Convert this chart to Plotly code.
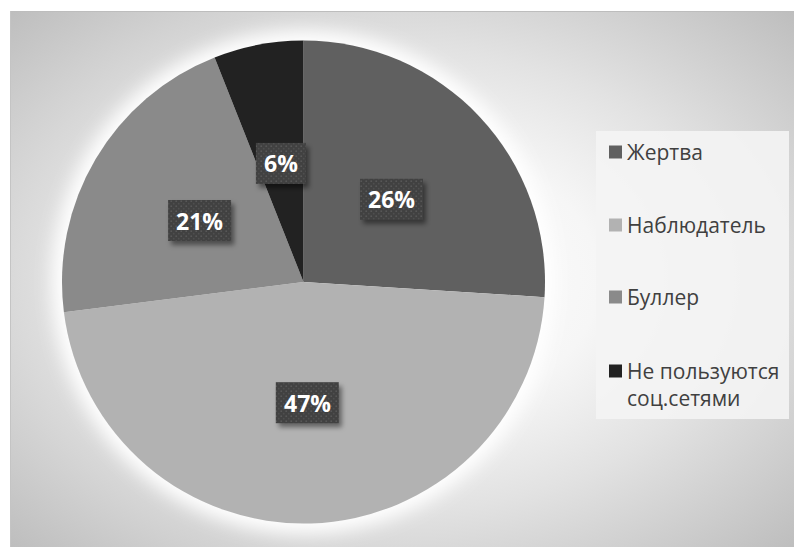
import base64
import math
import plotly.graph_objects as go

# Data
categories = ["Жертва", "Наблюдатель", "Буллер", "Не пользуются<br>соц.сетями"]
legend_names = ["Жертва", "Наблюдатель", "Буллер", "Не пользуются соц.сетями"]
values = [26, 47, 21, 6]
colors = ["#606060", "#b2b2b2", "#8a8a8a", "#222222"]

W, H = 794, 547
# pie domain (paper fractions)
dom_x = [62 / W, 545 / W]
dom_y = [23.5 / H, 506.5 / H]

cx_px = (dom_x[0] + dom_x[1]) / 2 * W
cy_px = H - (dom_y[0] + dom_y[1]) / 2 * H
radius_px = min((dom_x[1] - dom_x[0]) * W, (dom_y[1] - dom_y[0]) * H) / 2


def svg_uri(body):
    doc = (f'<svg xmlns="http://www.w3.org/2000/svg" width="{W}" height="{H}" '
           f'viewBox="0 0 {W} {H}">{body}</svg>')
    return "data:image/svg+xml;base64," + base64.b64encode(doc.encode("utf-8")).decode("ascii")


# Background: radial gradient panel with a soft white halo behind the pie
bg_body = f"""
<defs>
<radialGradient id="bg" cx="50%" cy="50%" r="72%">
<stop offset="0" stop-color="#ffffff"/>
<stop offset="0.35" stop-color="#f6f6f6"/>
<stop offset="0.6" stop-color="#e2e2e2"/>
<stop offset="1" stop-color="#bcbcbc"/>
</radialGradient>
<filter id="glow" x="-30%" y="-30%" width="160%" height="160%">
<feGaussianBlur stdDeviation="9"/>
</filter>
</defs>
<rect x="0" y="0" width="{W}" height="{H}" fill="#ffffff"/>
<rect x="10" y="11" width="{W-10}" height="{H-11}" fill="url(#bg)"/>
<circle cx="{cx_px:.1f}" cy="{cy_px:.1f}" r="{radius_px + 10:.1f}" fill="#ffffff" filter="url(#glow)"/>
<line x1="10" y1="11.5" x2="{W}" y2="11.5" stroke="#bdbdbd" stroke-width="1"/>
<line x1="10.5" y1="11" x2="10.5" y2="{H}" stroke="#c4c4c4" stroke-width="1"/>
"""

fig = go.Figure(
    go.Pie(
        labels=legend_names,
        values=values,
        sort=False,
        direction="clockwise",
        rotation=0,
        marker=dict(colors=colors, line=dict(width=0)),
        textinfo="none",
        hoverinfo="label+percent",
        showlegend=False,
        domain=dict(x=dom_x, y=dom_y),
    )
)

# Percentage labels: dotted dark boxes with a soft shadow, placed at each slice's mid-angle
total = sum(values)
annotations = []
box_body = """
<defs>
<pattern id="dots" width="5" height="5" patternUnits="userSpaceOnUse">
<rect width="5" height="5" fill="#414141"/>
<circle cx="1.2" cy="1.2" r="0.85" fill="#585858"/>
<circle cx="3.7" cy="3.7" r="0.85" fill="#4f4f4f"/>
</pattern>
<filter id="shadow" x="-50%" y="-50%" width="200%" height="200%">
<feGaussianBlur stdDeviation="2.5"/>
</filter>
</defs>
"""
cum = 0
for v in values:
    mid = (cum + v / 2) / total * 2 * math.pi
    cum += v
    px = cx_px + 0.5 * radius_px * math.sin(mid)
    py = cy_px - 0.5 * radius_px * math.cos(mid)
    txt = f"{round(v / total * 100)}%"
    bw = 13 * len(txt) + 24
    bh = 41
    x0, y0 = px - bw / 2, py - bh / 2
    box_body += (f'<rect x="{x0 + 3:.1f}" y="{y0 + 4:.1f}" width="{bw}" height="{bh}" '
                 f'fill="#000000" fill-opacity="0.45" filter="url(#shadow)"/>')
    box_body += f'<rect x="{x0:.1f}" y="{y0:.1f}" width="{bw}" height="{bh}" fill="url(#dots)"/>'
    annotations.append(dict(
        x=px / W, y=1 - py / H, xref="paper", yref="paper", text=f"<b>{txt}</b>",
        xanchor="center", yanchor="middle",
        showarrow=False, font=dict(family="Open Sans", size=23, color="#ffffff"),
    ))

# Legend box with colour swatches
shapes = [dict(type="rect", xref="paper", yref="paper",
               x0=596 / W, x1=789 / W, y0=1 - 419 / H, y1=1 - 131 / H,
               fillcolor="rgba(244,244,244,0.9)", line=dict(width=0), layer="below")]
legend_y = [152, 225, 297, 371]
for name, col, ly in zip(categories, colors, legend_y):
    shapes.append(dict(type="rect", xref="paper", yref="paper",
                       x0=609 / W, x1=622 / W, y0=1 - (ly + 6.5) / H, y1=1 - (ly - 6.5) / H,
                       fillcolor=col, line=dict(width=0)))
    n_lines = name.count("<br>") + 1
    annotations.append(dict(
        x=625 / W, y=1 - (ly + 13.5 * (n_lines - 1)) / H, xref="paper", yref="paper",
        xanchor="left", yanchor="middle", align="left", text=name, showarrow=False,
        font=dict(family="Open Sans", size=21, color="#404040"),
    ))

fig.update_layout(
    width=W, height=H,
    margin=dict(l=0, r=0, t=0, b=0),
    paper_bgcolor="#ffffff",
    plot_bgcolor="#ffffff",
    images=[
        dict(source=svg_uri(bg_body), xref="paper", yref="paper", x=0, y=1,
             sizex=1, sizey=1, xanchor="left", yanchor="top",
             sizing="stretch", layer="below"),
        dict(source=svg_uri(box_body), xref="paper", yref="paper", x=0, y=1,
             sizex=1, sizey=1, xanchor="left", yanchor="top",
             sizing="stretch", layer="above"),
    ],
    shapes=shapes,
    annotations=annotations,
)

fig.write_html("out.html")
